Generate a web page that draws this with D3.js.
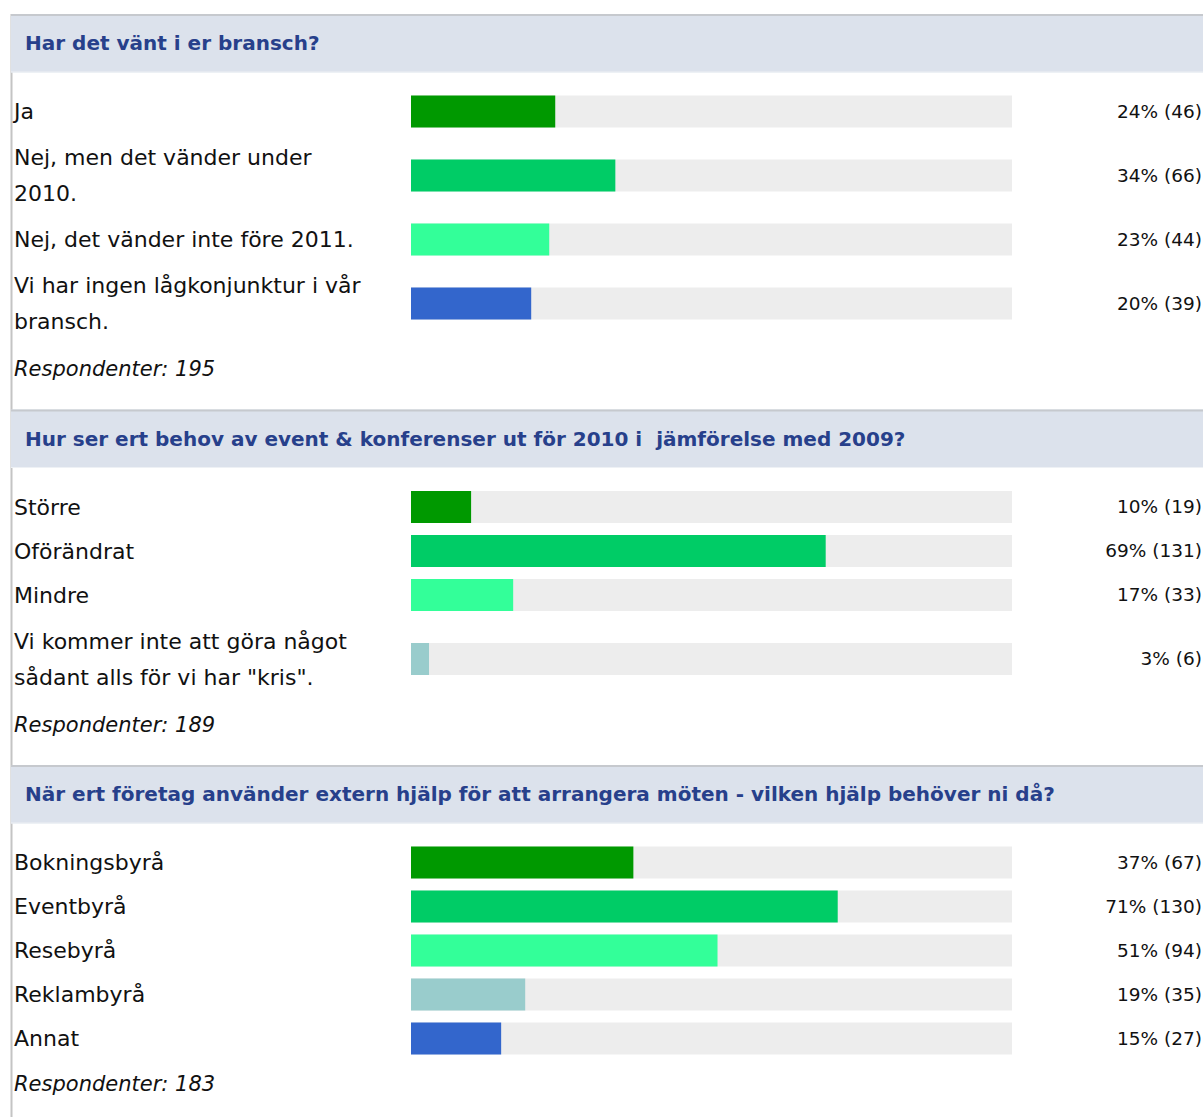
<!DOCTYPE html>
<html>
<head>
<meta charset="utf-8">
<script src="https://cdn.jsdelivr.net/npm/d3@7"></script>
<style>
  body { margin: 0; background: #fff; }
  .header-text { font-family: "DejaVu Sans", Verdana, sans-serif; font-weight: bold; font-size: 20px; fill: #27408b; }
  .label { font-family: "DejaVu Sans", Tahoma, sans-serif; font-size: 22px; fill: #111; }
  .value { font-family: "DejaVu Sans", Tahoma, sans-serif; font-size: 18.5px; fill: #111; }
  .resp { font-family: "DejaVu Sans", Tahoma, sans-serif; font-size: 21px; font-style: italic; fill: #111; }
</style>
</head>
<body>
<div id="chart"></div>
<script>
// --- data ---
const questions = [
  "Har det vänt i er bransch?",
  "Hur ser ert behov av event & konferenser ut för 2010 i\u00a0 jämförelse med 2009?",
  "När ert företag använder extern hjälp för att arrangera möten - vilken hjälp behöver ni då?"
];
const answers = [
  [["Ja"], ["Nej, men det vänder under", "2010."], ["Nej, det vänder inte före 2011."], ["Vi har ingen lågkonjunktur i vår", "bransch."]],
  [["Större"], ["Oförändrat"], ["Mindre"], ["Vi kommer inte att göra något", "sådant alls för vi har \"kris\"."]],
  [["Bokningsbyrå"], ["Eventbyrå"], ["Resebyrå"], ["Reklambyrå"], ["Annat"]]
];
const percents = [
  [24, 34, 23, 20],
  [10, 69, 17, 3],
  [37, 71, 51, 19, 15]
];
const counts = [
  [46, 66, 44, 39],
  [19, 131, 33, 6],
  [67, 130, 94, 35, 27]
];
const respondents = [195, 189, 183];
const barColors = [
  ["#009900", "#00cc66", "#33ff99", "#3366cc"],
  ["#009900", "#00cc66", "#33ff99", "#99cccc"],
  ["#009900", "#00cc66", "#33ff99", "#99cccc", "#3366cc"]
];

const W = 1203, H = 1117;
const left = 11;
const headerH = 58.5;
const lineH = 36;

const svg = d3.select("#chart").append("svg")
    .attr("width", W)
    .attr("height", H);

const x = d3.scaleLinear().domain([0, 100]).range([411, 1012]);

// left border of the survey box
svg.append("line")
    .attr("x1", left + 0.5).attr("x2", left + 0.5)
    .attr("y1", 14).attr("y2", H)
    .attr("stroke", "#c4c4c4").attr("stroke-width", 2);

let sectionTop = 14;
questions.forEach(function(q, qi) {
    const g = svg.append("g");

    // header band
    g.append("rect")
        .attr("x", left).attr("y", sectionTop)
        .attr("width", W - left).attr("height", headerH)
        .attr("fill", "#dce2ec");
    g.append("line")
        .attr("x1", left).attr("x2", W)
        .attr("y1", sectionTop + 1).attr("y2", sectionTop + 1)
        .attr("stroke", "#c6c9ce").attr("stroke-width", 2);
    g.append("line")
        .attr("x1", left).attr("x2", W)
        .attr("y1", sectionTop + headerH - 0.5).attr("y2", sectionTop + headerH - 0.5)
        .attr("stroke", "#eef1f5").attr("stroke-width", 1);
    g.append("text")
        .attr("class", "header-text")
        .attr("x", 25)
        .attr("y", sectionTop + headerH / 2)
        .attr("dy", "0.35em")
        .text(q);

    // rows
    let y = sectionTop + 75.5;
    answers[qi].forEach(function(lines, i) {
        const rowH = lines.length > 1 ? 84 : 44;
        const cy = y + rowH / 2;

        const t = g.append("text").attr("class", "label");
        lines.forEach(function(l, li) {
            t.append("tspan")
                .attr("x", 14)
                .attr("y", cy + (li - (lines.length - 1) / 2) * lineH)
                .attr("dy", "0.35em")
                .text(l);
        });

        g.append("rect")
            .attr("x", x(0)).attr("y", cy - 16)
            .attr("width", x(100) - x(0)).attr("height", 32)
            .attr("fill", "#ededed");
        g.append("rect")
            .attr("x", x(0)).attr("y", cy - 16)
            .attr("width", x(percents[qi][i]) - x(0)).attr("height", 32)
            .attr("fill", barColors[qi][i]);

        g.append("text")
            .attr("class", "value")
            .attr("x", 1202)
            .attr("y", cy)
            .attr("dy", "0.35em")
            .attr("text-anchor", "end")
            .text(percents[qi][i] + "% (" + counts[qi][i] + ")");

        y += rowH;
    });

    g.append("text")
        .attr("class", "resp")
        .attr("x", 14)
        .attr("y", y + 23.5)
        .attr("dy", "0.35em")
        .text("Respondenter: " + respondents[qi]);

    sectionTop = y + 23.5 + 40.5;
});
</script>
</body>
</html>
